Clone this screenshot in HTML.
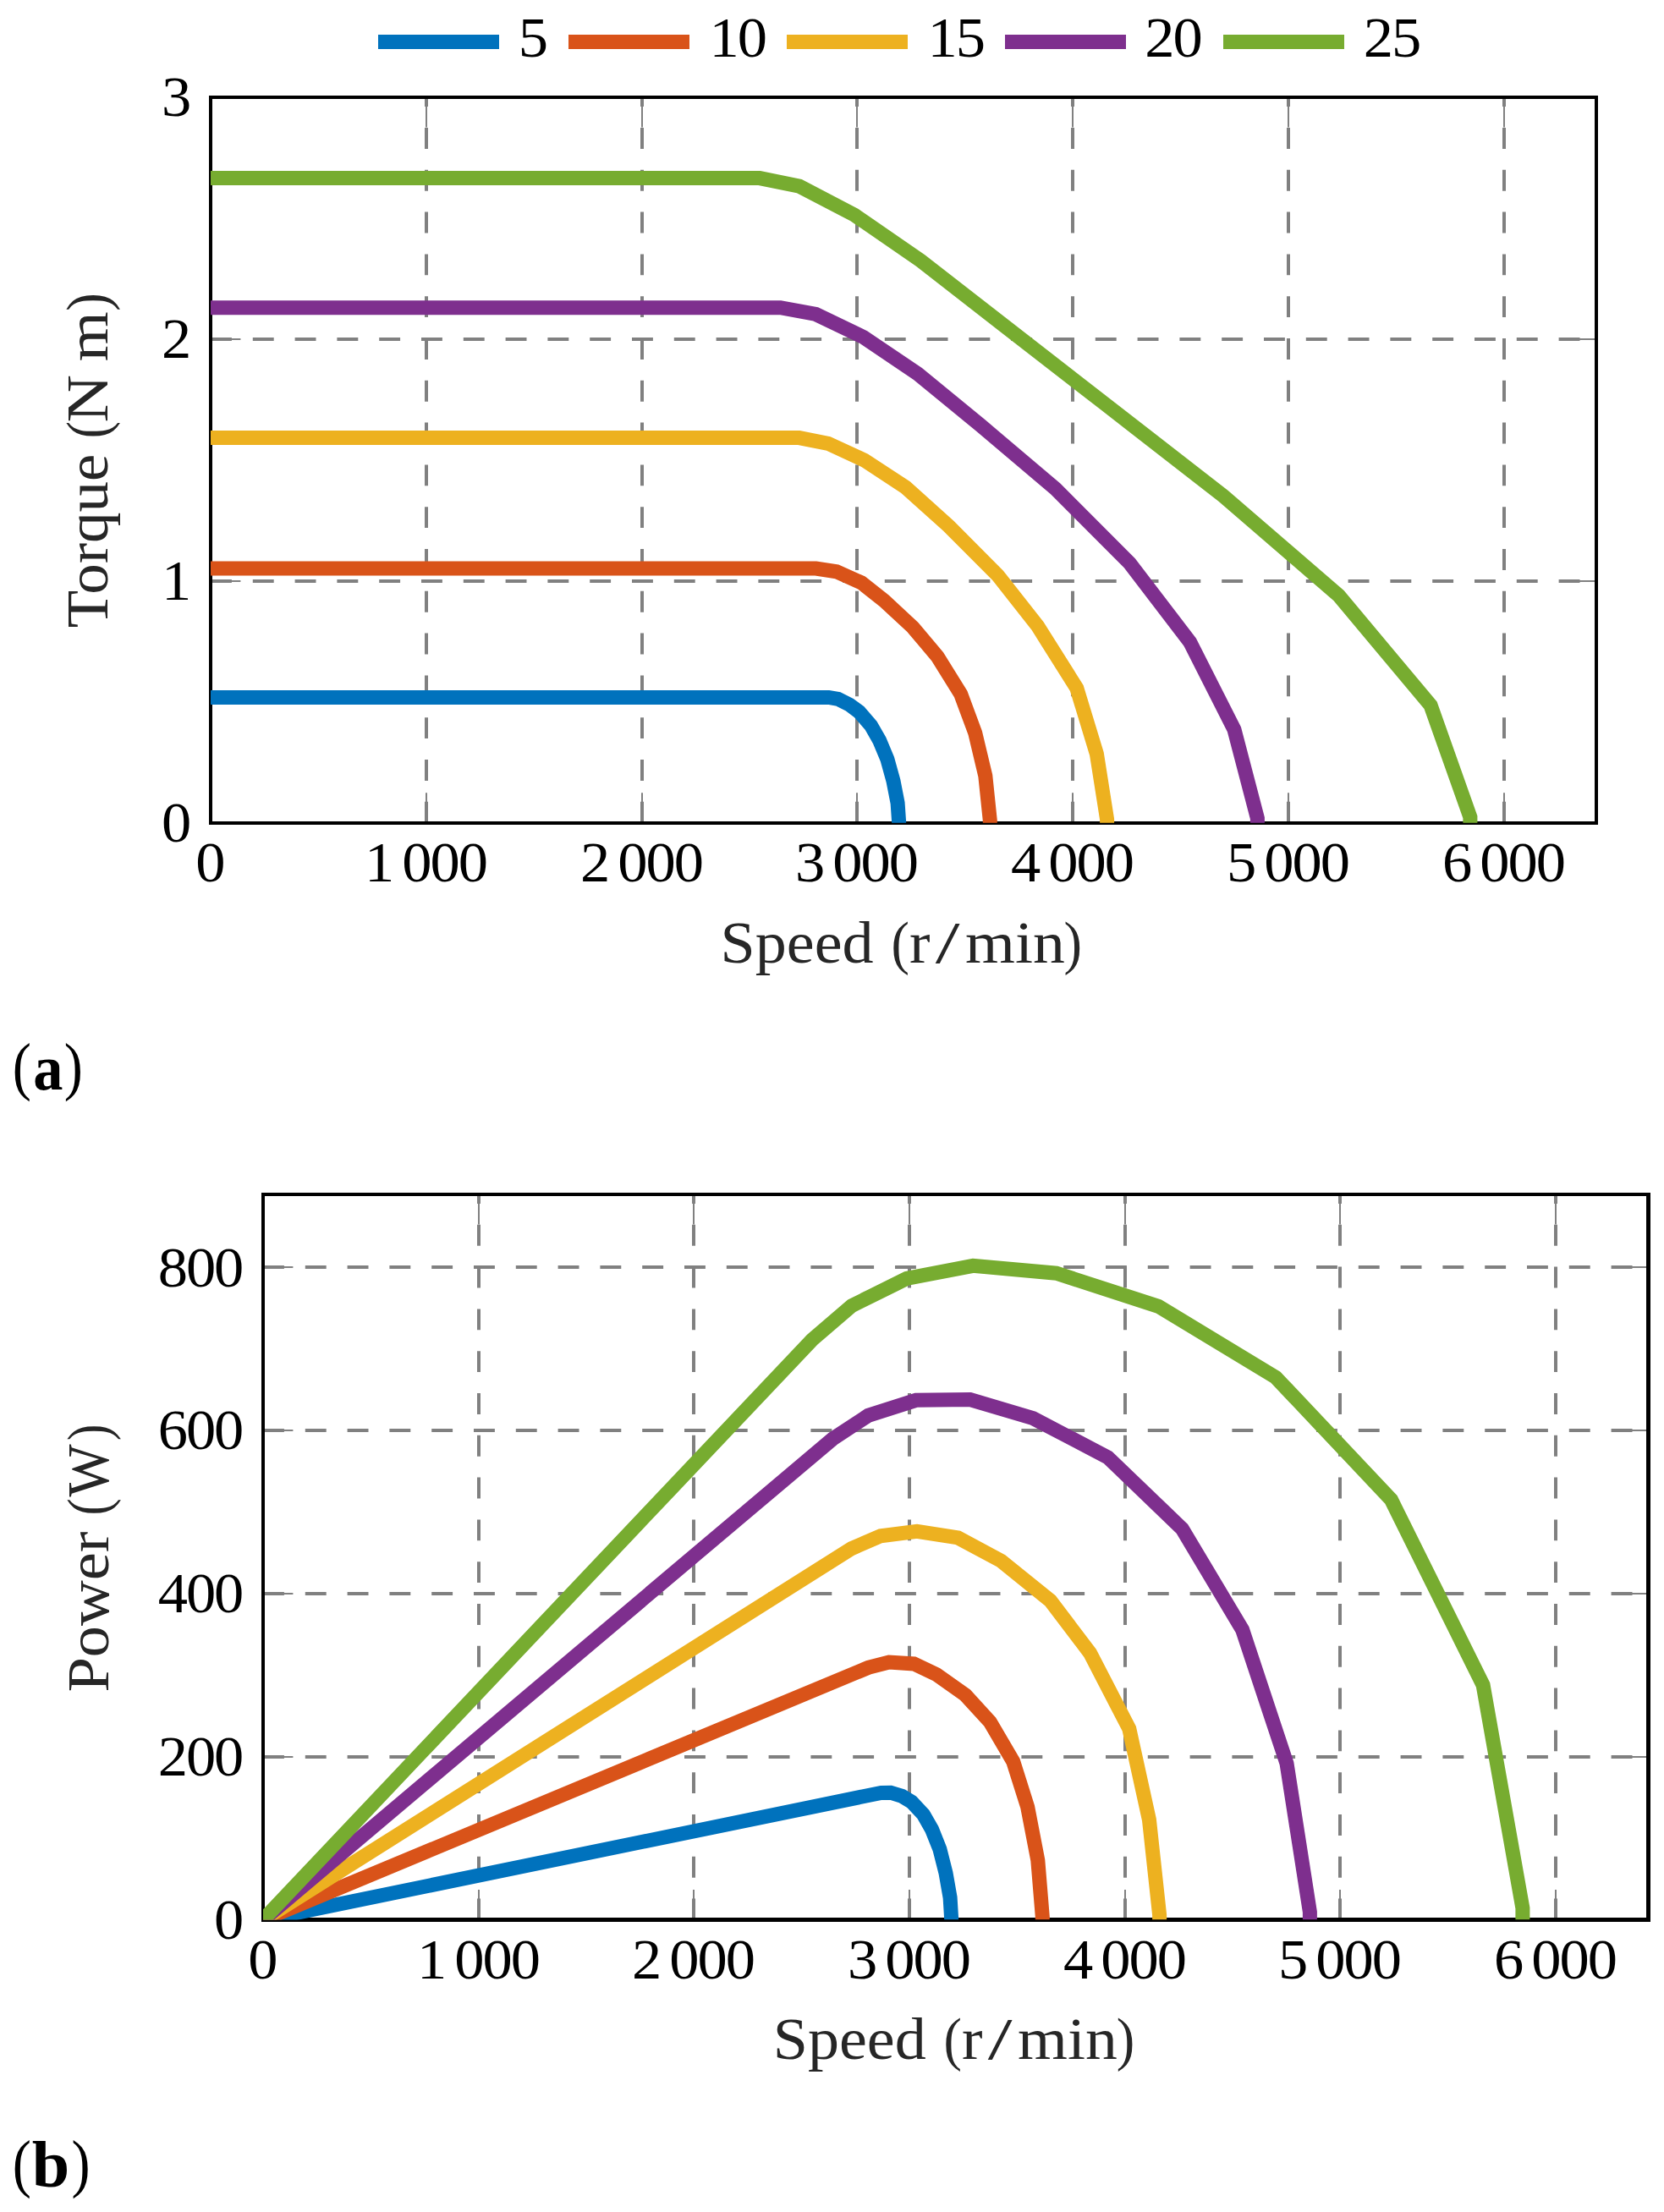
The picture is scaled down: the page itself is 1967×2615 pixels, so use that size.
<!DOCTYPE html>
<html lang="en"><head><meta charset="utf-8"><title>Torque and power versus speed</title>
<style>html,body{margin:0;padding:0;background:#fff}svg{display:block}text{font-family:"Liberation Serif", "DejaVu Serif", serif;font-size:68.5px;fill:#000}.lab{fill:#262626;font-size:70px}.tg text{font-size:75px}.g{stroke:#808080;stroke-width:4.0;stroke-dasharray:24.9 24.9;fill:none}.t{stroke:#808080;stroke-width:2.0;fill:none}.c{fill:none;stroke-width:17.0;stroke-linejoin:miter;stroke-miterlimit:10;stroke-linecap:butt}.ax{fill:none;stroke:#000;stroke-width:4.3;stroke-linejoin:miter}</style></head><body>
<svg width="1967" height="2615" viewBox="0 0 1967 2615">
<rect width="1967" height="2615" fill="#fff"/>
<defs>
<clipPath id="ca"><rect x="249.0" y="115.0" width="1638.0" height="858.0"/></clipPath>
<clipPath id="cb"><rect x="311.0" y="1412.0" width="1638.0" height="857.5"/></clipPath>
</defs>
<g id="legend">
<rect x="447" y="41" width="143" height="17" fill="#0072BD"/>
<text transform="scale(1.03 1)" x="594.8" y="67">5</text>
<rect x="672" y="41" width="143" height="17" fill="#D95319"/>
<text transform="scale(1.03 1)" x="814 846.3" y="67">10</text>
<rect x="930" y="41" width="143" height="17" fill="#EDB120"/>
<text transform="scale(1.03 1)" x="1064.6 1096.9" y="67">15</text>
<rect x="1188" y="41" width="143" height="17" fill="#7E2F8E"/>
<text transform="scale(1.03 1)" x="1313.8 1346.1" y="67">20</text>
<rect x="1446" y="41" width="143" height="17" fill="#77AC30"/>
<text transform="scale(1.03 1)" x="1564.8 1597" y="67">25</text>
</g>
<g id="plot-a">
<path class="g" d="M504 972.7V115"/>
<path class="t" d="M504 972.7v-35.4 M504 115v35.4"/>
<path class="g" d="M759 972.7V115"/>
<path class="t" d="M759 972.7v-35.4 M759 115v35.4"/>
<path class="g" d="M1013 972.7V115"/>
<path class="t" d="M1013 972.7v-35.4 M1013 115v35.4"/>
<path class="g" d="M1268 972.7V115"/>
<path class="t" d="M1268 972.7v-35.4 M1268 115v35.4"/>
<path class="g" d="M1523 972.7V115"/>
<path class="t" d="M1523 972.7v-35.4 M1523 115v35.4"/>
<path class="g" d="M1778 972.7V115"/>
<path class="t" d="M1778 972.7v-35.4 M1778 115v35.4"/>
<path class="g" d="M249 687H1887"/>
<path class="t" d="M249 687h35.4 M1887 687h-35.4"/>
<path class="g" d="M249 401H1887"/>
<path class="t" d="M249 401h35.4 M1887 401h-35.4"/>
<path fill="#000" d="M247 113H1889V975H247ZM251 117V971H1885V117Z" fill-rule="evenodd"/>
<g clip-path="url(#ca)">
<polyline class="c" stroke="#0072BD" points="249,824.5 979.6,824.5 990.8,826.5 1004.3,833.2 1015.6,841.6 1029.5,857.6 1039.6,875.3 1048.9,897.6 1056,923.3 1061.1,949.3 1062.6,971.4 1062.6,972.7"/>
<polyline class="c" stroke="#D95319" points="249,672 964.5,672 988.9,675.8 1018.3,688.9 1045,710 1079.3,741.9 1108.2,776.2 1135.7,820.5 1152.7,866.4 1164.8,917.3 1170.3,970.1 1170.3,972.7"/>
<polyline class="c" stroke="#EDB120" points="249,517.6 944.7,517.6 979,524.3 1021.9,544.2 1070.5,576.1 1121.5,622 1179.6,680.3 1226.6,740.1 1272.8,813.6 1296.4,891.2 1308.6,968.7 1308.6,972.7"/>
<polyline class="c" stroke="#7E2F8E" points="249,363.7 922.5,363.7 964.4,371.5 1020.8,398.6 1084.8,441.9 1159.2,502.9 1247.6,577.8 1335.4,665.8 1406.6,759 1459,862.5 1486.4,967.4 1486.4,972.7"/>
<polyline class="c" stroke="#77AC30" points="249,210.6 898,210.6 944.9,220.2 1009.8,254 1088.2,308.1 1186.7,384.7 1307.3,478.4 1446.1,586.3 1582.5,704.1 1691.1,833.9 1737.9,966 1737.9,972.7"/>
</g>
<text transform="scale(1.03 1)" x="224.6" y="1042.2">0</text>
<text transform="scale(1.03 1)" x="418.5 451.7 461.5 493.7 525.9" y="1042.2">1 000</text>
<text transform="scale(1.03 1)" x="666 699.3 709 741.3 773.5" y="1042.2">2 000</text>
<text transform="scale(1.03 1)" x="912.6 945.9 955.6 987.9 1020.1" y="1042.2">3 000</text>
<text transform="scale(1.03 1)" x="1160.2 1193.5 1203.2 1235.4 1267.7" y="1042.2">4 000</text>
<text transform="scale(1.03 1)" x="1407.8 1441 1450.8 1483 1515.2" y="1042.2">5 000</text>
<text transform="scale(1.03 1)" x="1655.4 1688.6 1698.3 1730.6 1762.8" y="1042.2">6 000</text>
<text transform="scale(1.03 1)" x="185.5" y="994.7">0</text>
<text transform="scale(1.03 1)" x="185.5" y="708.8">1</text>
<text transform="scale(1.03 1)" x="185.5" y="422.9">2</text>
<text transform="scale(1.03 1)" x="185.5" y="137">3</text>
<text class="lab"><tspan x="851.6" y="1137.9" textLength="181.0" lengthAdjust="spacingAndGlyphs">Speed</tspan><tspan x="1035" y="1137.9"> </tspan><tspan x="1053.4" y="1137.9" textLength="21.4" lengthAdjust="spacingAndGlyphs">(</tspan><tspan x="1075" y="1137.9" textLength="24.5" lengthAdjust="spacingAndGlyphs">r</tspan><tspan x="1105.7" y="1137.9" textLength="28.8" lengthAdjust="spacingAndGlyphs">/</tspan><tspan x="1141" y="1137.9" textLength="117.8" lengthAdjust="spacingAndGlyphs">min</tspan><tspan x="1257.6" y="1137.9" textLength="21.5" lengthAdjust="spacingAndGlyphs">)</tspan></text>
<text class="lab" transform="translate(127 741.2) rotate(-90)"><tspan x="-1" y="0" textLength="205.6" lengthAdjust="spacingAndGlyphs">Torque</tspan><tspan x="206" y="0"> </tspan><tspan x="222.9" y="0" textLength="20.2" lengthAdjust="spacingAndGlyphs">(</tspan><tspan x="241.8" y="0" textLength="56.5" lengthAdjust="spacingAndGlyphs">N</tspan><tspan x="299" y="0"> </tspan><tspan x="313.9" y="0" textLength="59.0" lengthAdjust="spacingAndGlyphs">m</tspan><tspan x="373.4" y="0" textLength="21.5" lengthAdjust="spacingAndGlyphs">)</tspan></text>
</g>
<g class="tg">
<text transform="translate(14.85 1286.36) scale(0.885 1.0087)">(</text>
<text transform="translate(39.22 1288) scale(0.938 1.011)" font-weight="bold">a</text>
<text transform="translate(75.73 1286.36) scale(0.885 1.0087)">)</text>
</g>
<g id="plot-b">
<path class="g" d="M566 2269.5V1412"/>
<path class="t" d="M566 2269.5v-35.4 M566 1412v35.4"/>
<path class="g" d="M820 2269.5V1412"/>
<path class="t" d="M820 2269.5v-35.4 M820 1412v35.4"/>
<path class="g" d="M1075 2269.5V1412"/>
<path class="t" d="M1075 2269.5v-35.4 M1075 1412v35.4"/>
<path class="g" d="M1330 2269.5V1412"/>
<path class="t" d="M1330 2269.5v-35.4 M1330 1412v35.4"/>
<path class="g" d="M1584 2269.5V1412"/>
<path class="t" d="M1584 2269.5v-35.4 M1584 1412v35.4"/>
<path class="g" d="M1839 2269.5V1412"/>
<path class="t" d="M1839 2269.5v-35.4 M1839 1412v35.4"/>
<path class="g" d="M311 2077H1949"/>
<path class="t" d="M311 2077h35.4 M1949 2077h-35.4"/>
<path class="g" d="M311 1884H1949"/>
<path class="t" d="M311 1884h35.4 M1949 1884h-35.4"/>
<path class="g" d="M311 1691H1949"/>
<path class="t" d="M311 1691h35.4 M1949 1691h-35.4"/>
<path class="g" d="M311 1498H1949"/>
<path class="t" d="M311 1498h35.4 M1949 1498h-35.4"/>
<path fill="#000" d="M309 1410H1951V2272H309ZM313 1414V2267H1946V1414Z" fill-rule="evenodd"/>
<g clip-path="url(#cb)">
<polyline class="c" stroke="#0072BD" points="311,2269.5 1041.6,2119.4 1052.8,2119.2 1066.3,2123.4 1077.6,2130.2 1091.5,2145 1101.6,2162.8 1110.9,2186.2 1118,2214.2 1123.1,2243.2 1124.6,2268 1124.6,2269.5"/>
<polyline class="c" stroke="#D95319" points="311,2269.5 1026.5,1971.3 1050.9,1965 1080.3,1966.9 1107,1979.6 1141.3,2003.9 1170.2,2035.5 1197.7,2082.4 1214.7,2136.3 1226.8,2199.2 1232.3,2266.1 1232.3,2269.5"/>
<polyline class="c" stroke="#EDB120" points="311,2269.5 1006.7,1830.6 1041,1815.7 1083.9,1810.4 1132.5,1817.9 1183.5,1845.3 1241.6,1892.3 1288.6,1954.3 1334.8,2043.7 1358.4,2151.2 1370.6,2263.7 1370.6,2269.5"/>
<polyline class="c" stroke="#7E2F8E" points="311,2269.5 984.5,1700.9 1026.4,1673.3 1082.8,1655.3 1146.8,1654.5 1221.2,1676.7 1309.6,1722.9 1397.4,1807.3 1468.6,1926.6 1521,2084.7 1548.4,2260.4 1548.4,2269.5"/>
<polyline class="c" stroke="#77AC30" points="311,2269.5 960,1583.8 1006.9,1543.6 1071.8,1511.5 1150.2,1496.4 1248.7,1505.2 1369.3,1544.3 1508.1,1628.3 1644.5,1773 1753.1,1992 1799.9,2255.8 1799.9,2269.5"/>
</g>
<text transform="scale(1.03 1)" x="284.8" y="2339.4">0</text>
<text transform="scale(1.03 1)" x="478.7 511.9 521.6 553.9 586.1" y="2339.4">1 000</text>
<text transform="scale(1.03 1)" x="725.3 758.5 768.2 800.5 832.7" y="2339.4">2 000</text>
<text transform="scale(1.03 1)" x="972.8 1006.1 1015.8 1048.1 1080.3" y="2339.4">3 000</text>
<text transform="scale(1.03 1)" x="1220.4 1253.7 1263.4 1295.6 1327.9" y="2339.4">4 000</text>
<text transform="scale(1.03 1)" x="1467 1500.3 1510 1542.2 1574.5" y="2339.4">5 000</text>
<text transform="scale(1.03 1)" x="1714.6 1747.8 1757.6 1789.8 1822" y="2339.4">6 000</text>
<text transform="scale(1.03 1)" x="245.7" y="2291.9">0</text>
<text transform="scale(1.03 1)" x="181.2 213.5 245.7" y="2099.1">200</text>
<text transform="scale(1.03 1)" x="181.2 213.5 245.7" y="1906.3">400</text>
<text transform="scale(1.03 1)" x="181.2 213.5 245.7" y="1713.5">600</text>
<text transform="scale(1.03 1)" x="181.2 213.5 245.7" y="1520.7">800</text>
<text class="lab"><tspan x="913.7" y="2434.2" textLength="181.0" lengthAdjust="spacingAndGlyphs">Speed</tspan><tspan x="1097.1" y="2434.2"> </tspan><tspan x="1115.5" y="2434.2" textLength="21.4" lengthAdjust="spacingAndGlyphs">(</tspan><tspan x="1137.1" y="2434.2" textLength="24.5" lengthAdjust="spacingAndGlyphs">r</tspan><tspan x="1167.8" y="2434.2" textLength="28.8" lengthAdjust="spacingAndGlyphs">/</tspan><tspan x="1203.1" y="2434.2" textLength="117.8" lengthAdjust="spacingAndGlyphs">min</tspan><tspan x="1319.7" y="2434.2" textLength="21.5" lengthAdjust="spacingAndGlyphs">)</tspan></text>
<text class="lab" transform="translate(127.6 1998.4) rotate(-90)"><tspan x="-2.1" y="0" textLength="190.0" lengthAdjust="spacingAndGlyphs">Power</tspan><tspan x="190" y="0"> </tspan><tspan x="207" y="0" textLength="20.1" lengthAdjust="spacingAndGlyphs">(</tspan><tspan x="229" y="0" textLength="62.0" lengthAdjust="spacingAndGlyphs">W</tspan><tspan x="295.2" y="0" textLength="19.6" lengthAdjust="spacingAndGlyphs">)</tspan></text>
</g>
<g class="tg">
<text transform="translate(14.85 2583.06) scale(0.885 1.0087)">(</text>
<text transform="translate(37.73 2584.7) scale(1.066 1.052)" font-weight="bold">b</text>
<text transform="translate(84.43 2583.06) scale(0.885 1.0087)">)</text>
</g>
</svg></body></html>
